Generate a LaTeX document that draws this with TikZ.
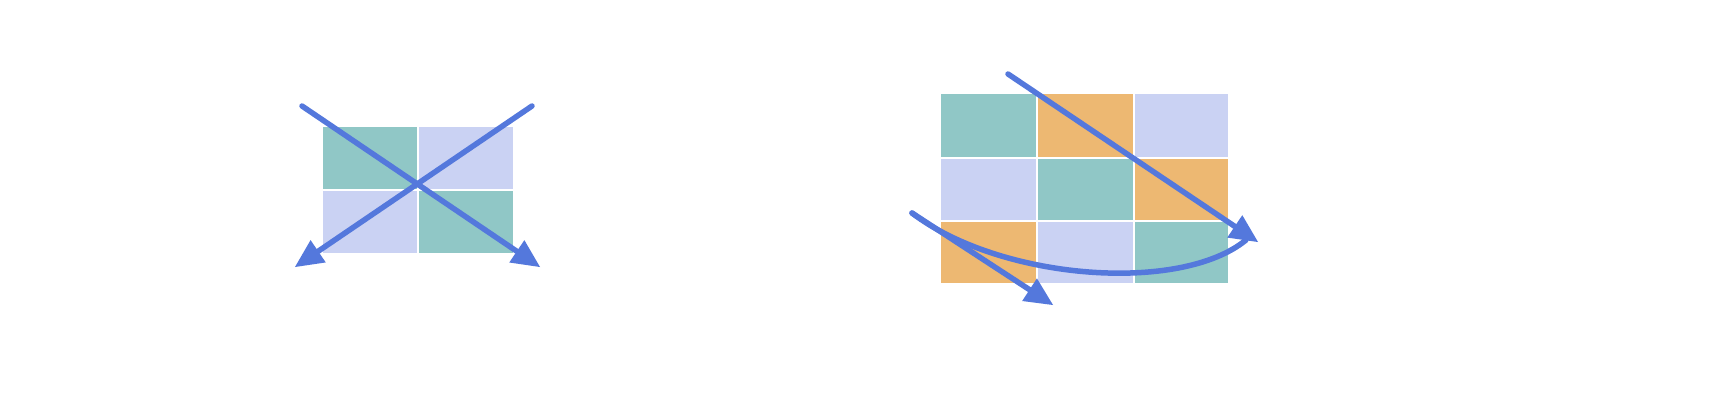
\documentclass[tikz,border=0pt]{standalone}
\usetikzlibrary{arrows.meta}
\definecolor{tealc}{HTML}{90C7C6}
\definecolor{orangec}{HTML}{EDB872}
\definecolor{lavc}{HTML}{CAD2F3}
\definecolor{arrowc}{HTML}{5478DC}
\tikzset{
  cell/.style={fill=#1, draw=none},
  arr/.style={draw=arrowc, line width=5.5pt, line cap=round,
    -{Triangle[length=28pt,width=27pt,line width=0pt,fill=arrowc]}},
  arrnohead/.style={draw=arrowc, line width=5.5pt, line cap=round}
}
\begin{document}
\begin{tikzpicture}[x=1pt,y=-1pt]
\useasboundingbox (0,0) rectangle (1720,408);
\fill[white] (0,0) rectangle (1720,408);
% left grid
\fill[cell=tealc] (323,127) rectangle (417,189);
\fill[cell=lavc]  (419,127) rectangle (513,189);
\fill[cell=lavc]  (323,191) rectangle (417,253);
\fill[cell=tealc] (419,191) rectangle (513,253);
% right grid
\fill[cell=tealc]   (941,94) rectangle (1036,157);
\fill[cell=orangec] (1038,94) rectangle (1133,157);
\fill[cell=lavc]    (1135,94) rectangle (1228,157);
\fill[cell=lavc]    (941,159) rectangle (1036,220);
\fill[cell=tealc]   (1038,159) rectangle (1133,220);
\fill[cell=orangec] (1135,159) rectangle (1228,220);
\fill[cell=orangec] (941,222) rectangle (1036,283);
\fill[cell=lavc]    (1038,222) rectangle (1133,283);
\fill[cell=tealc]   (1135,222) rectangle (1228,283);
% coordinates
\coordinate (l1s) at (302,106);
\coordinate (l1e) at (540,267);
\coordinate (l2s) at (532,106);
\coordinate (l2e) at (295,267);
\coordinate (r1s) at (1008,74);
\coordinate (r1e) at (1258,242);
\coordinate (r2s) at (912,213);
\coordinate (r2e) at (1053,305);
% arrows
\draw[arr] (l1s) -- (l1e);
\draw[arr] (l2s) -- (l2e);
\draw[arrnohead] (r2s) .. controls (1000,280) and (1180,294) .. ([xshift=-12pt,yshift=2pt]r1e);
\draw[arr] (r1s) -- (r1e);
\draw[arr] (r2s) -- (r2e);
\end{tikzpicture}
\end{document}
